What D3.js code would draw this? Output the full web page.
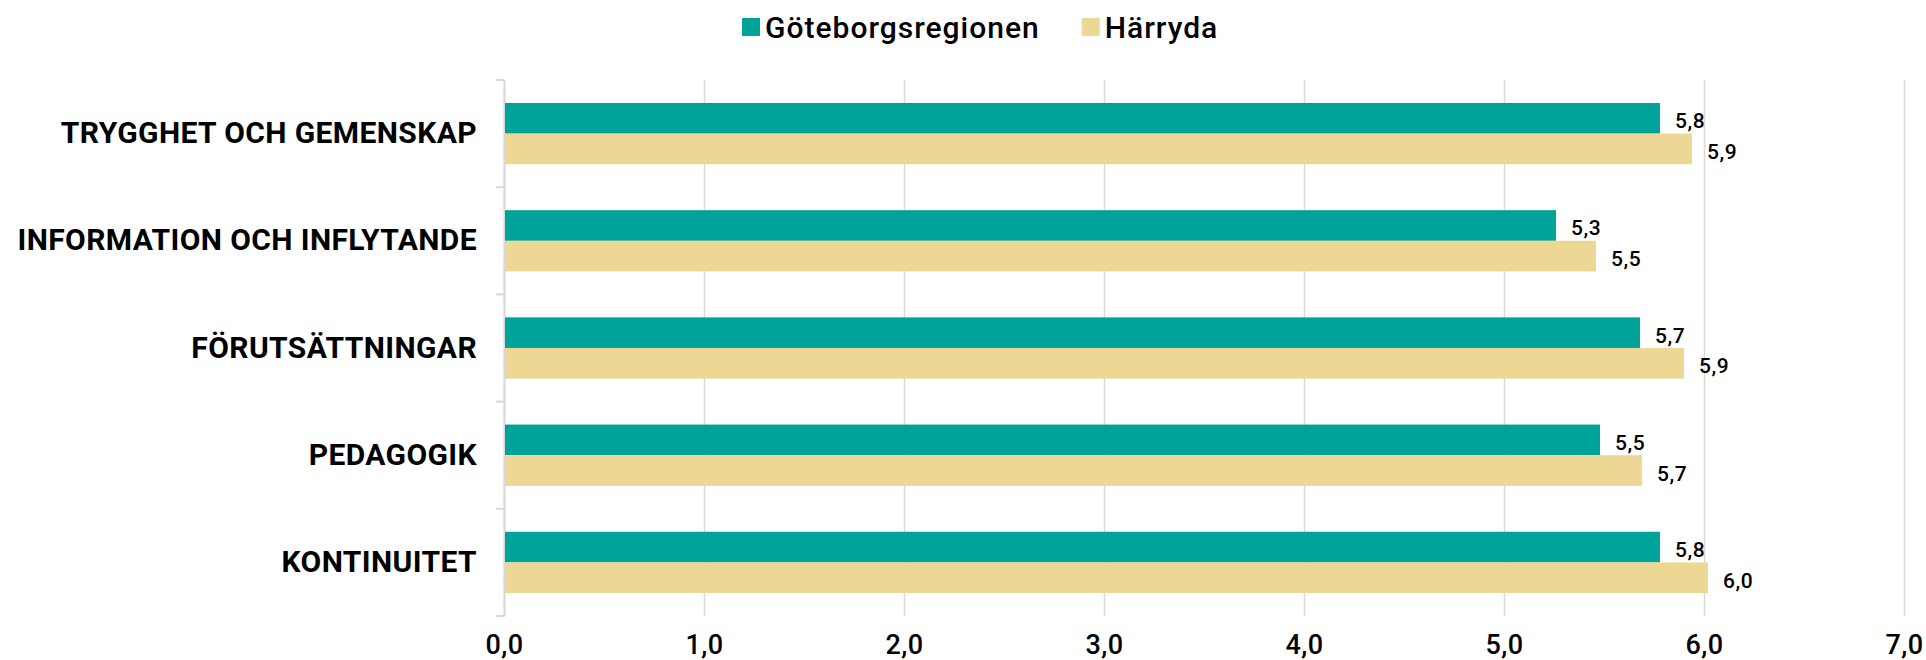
<!DOCTYPE html>
<html>
<head>
	<meta charset="utf-8">
	<title>Skolenkät</title>
	<script src="https://cdn.jsdelivr.net/npm/d3@7"></script>
	<style type="text/css">
		body { margin: 0; background: #fff; }
		text { font-family: Roboto, "Liberation Sans", sans-serif; fill: #000; }
	</style>
</head>
<body>
	<script type="text/javascript">
		// Data
		var categories = ["TRYGGHET OCH GEMENSKAP", "INFORMATION OCH INFLYTANDE", "FÖRUTSÄTTNINGAR", "PEDAGOGIK", "KONTINUITET"];
		var seriesNames = ["Göteborgsregionen", "Härryda"];
		var goteborg = [5.78, 5.26, 5.68, 5.48, 5.78];
		var harryda = [5.94, 5.46, 5.90, 5.69, 6.02];
		var xTicks = [0, 1, 2, 3, 4, 5, 6, 7];
		var colors = ["#00a39a", "#edd795"];

		var width = 1926;
		var height = 660;
		// plot area (note: "top" is taken by window.top)
		var plotLeft = 504, plotRight = 1904, plotTop = 80, plotBottom = 616;

		var fmt = function(d) { return d.toFixed(1).replace(".", ","); };

		var svg = d3.select("body").append("svg")
		    .attr("width", width)
		    .attr("height", height);

		// Scales
		var xScale = d3.scaleLinear()
		    .domain([0, 7])
		    .range([plotLeft, plotRight]);
		var yScale = d3.scaleBand()
		    .domain(categories)
		    .range([plotTop, plotBottom]);
		var ySub = d3.scaleBand()
		    .domain(seriesNames)
		    .range([0, yScale.bandwidth()])
		    .paddingOuter(0.75);

		// Gridlines + x labels
		var xAxis = svg.append("g")
		    .attr("transform", "translate(0," + plotBottom + ")")
		    .call(d3.axisBottom(xScale)
		      .tickValues(xTicks)
		      .tickFormat(fmt)
		      .tickSize(-(plotBottom - plotTop))
		      .tickPadding(19));
		xAxis.select(".domain").remove();
		xAxis.selectAll("line").attr("stroke", "#d9d9d9").attr("stroke-width", 1.5);
		xAxis.selectAll("text")
		    .style("font-size", "27px")
		    .style("font-weight", "500")
		    .style("letter-spacing", "0.5px")
		    .attr("fill", "#000");

		// Category axis
		var yAxis = svg.append("g")
		    .attr("transform", "translate(" + plotLeft + ",0)")
		    .call(d3.axisLeft(yScale).tickSize(0).tickPadding(27));
		yAxis.select(".domain").attr("stroke", "#d9d9d9").attr("stroke-width", 2);
		yAxis.selectAll("text")
		    .style("font-size", "30px")
		    .style("font-weight", "700")
		    .style("letter-spacing", "0.4px")
		    .attr("fill", "#000");

		// Ticks between categories
		var bounds = d3.range(categories.length + 1).map(function(i) { return plotTop + i * yScale.step(); });
		svg.append("g").selectAll("line")
		    .data(bounds)
		    .enter()
		    .append("line")
		      .attr("x1", plotLeft - 8)
		      .attr("x2", plotLeft)
		      .attr("y1", function(d) { return d; })
		      .attr("y2", function(d) { return d; })
		      .attr("stroke", "#d9d9d9")
		      .attr("stroke-width", 2);

		// Bars
		var rows = categories.map(function(c, i) {
		    return { cat: c, values: [goteborg[i], harryda[i]] };
		});
		var groups = svg.append("g").selectAll("g")
		    .data(rows)
		    .enter()
		    .append("g")
		      .attr("transform", function(d) { return "translate(0," + yScale(d.cat) + ")"; });

		groups.selectAll("rect")
		    .data(function(d) { return d.values.map(function(v, j) { return { name: seriesNames[j], v: v, j: j }; }); })
		    .enter()
		    .append("rect")
		      .attr("x", xScale(0) + 1)
		      .attr("y", function(d) { return ySub(d.name); })
		      .attr("width", function(d) { return xScale(d.v) - xScale(0) - 1; })
		      .attr("height", ySub.bandwidth())
		      .attr("fill", function(d) { return colors[d.j]; });

		groups.selectAll("text.val")
		    .data(function(d) { return d.values.map(function(v, j) { return { name: seriesNames[j], v: v }; }); })
		    .enter()
		    .append("text")
		      .attr("class", "val")
		      .attr("x", function(d) { return xScale(d.v) + 15; })
		      .attr("y", function(d) { return ySub(d.name) + ySub.bandwidth() / 2 + 3; })
		      .attr("dominant-baseline", "central")
		      .style("font-size", "21px")
		      .style("font-weight", "500")
		      .style("letter-spacing", "0.5px")
		      .text(function(d) { return fmt(d.v); });

		// Legend
		var legend = svg.append("g");
		var lx = 742;
		seriesNames.forEach(function(name, j) {
		    legend.append("rect")
		      .attr("x", lx)
		      .attr("y", 18)
		      .attr("width", 18)
		      .attr("height", 18)
		      .attr("fill", colors[j]);
		    var t = legend.append("text")
		      .attr("x", lx + 23)
		      .attr("y", 27)
		      .attr("dominant-baseline", "central")
		      .style("font-size", "30px")
		      .style("font-weight", "500")
		      .style("letter-spacing", "1px")
		      .text(name);
		    lx += 23 + t.node().getComputedTextLength() + 42;
		});
	</script>
</body>
</html>
